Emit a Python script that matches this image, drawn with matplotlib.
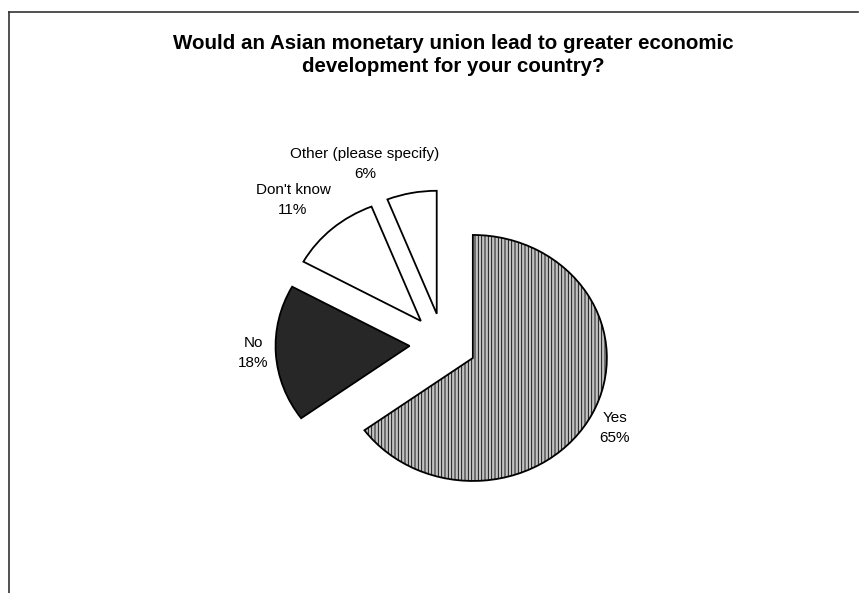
import matplotlib
matplotlib.use("Agg")
import matplotlib.pyplot as plt
from matplotlib.lines import Line2D

categories = ["Yes", "No", "Don't know", "Other (please specify)"]
values = [65, 18, 11, 6]
title = "Would an Asian monetary union lead to greater economic\ndevelopment for your country?"

colors = ["#c2c2c2", "#272727", "#ffffff", "#ffffff"]
hatches = ["|||||", "", "", ""]

W, H = 867, 593
fig = plt.figure(figsize=(W / 100, H / 100), dpi=100)
plt.rcParams['font.family'] = ['Liberation Sans', 'DejaVu Sans']
plt.rcParams['hatch.linewidth'] = 0.6
plt.rcParams['hatch.color'] = '#8c8c8c'

# pie geometry in pixels
cx, cy, rx, ry = 443, 344, 134, 123
lim = 1.5
left = (cx - lim * rx) / W
width = 2 * lim * rx / W
bottom = (H - (cy + lim * ry)) / H
height = 2 * lim * ry / H
ax = fig.add_axes([left, bottom, width, height])

wedges, _ = ax.pie(values, startangle=90, counterclock=False,
                   colors=colors, explode=[0.25] * len(values),
                   wedgeprops=dict(edgecolor="black", linewidth=1.3))
for w, h in zip(wedges, hatches):
    if h:
        w.set_hatch(h)
ax.set_aspect('auto')
ax.set_xlim(-lim, lim)
ax.set_ylim(-lim, lim)
ax.axis('off')

# labels (pixel positions of label centers)
label_pos = [(615, 428), (253, 353), (293, 200), (365, 164)]
for cat, val, (px, py) in zip(categories, values, label_pos):
    fig.text(px / W, 1 - py / H, f"{cat}\n{val}%", ha='center', va='center',
             fontsize=11, linespacing=1.5)

fig.text(453 / W, 1 - 55 / H, title, ha='center', va='center',
         fontsize=14.8, fontweight='bold', linespacing=1.3)

# chart frame (top and left edges visible)
fig.add_artist(Line2D([9 / W, 9 / W], [0, 1 - 12 / H], transform=fig.transFigure,
                      color='#333333', lw=1.2))
fig.add_artist(Line2D([9 / W, 858 / W], [1 - 12 / H, 1 - 12 / H], transform=fig.transFigure,
                      color='#333333', lw=1.2))

fig.savefig("out.png", dpi=100)
